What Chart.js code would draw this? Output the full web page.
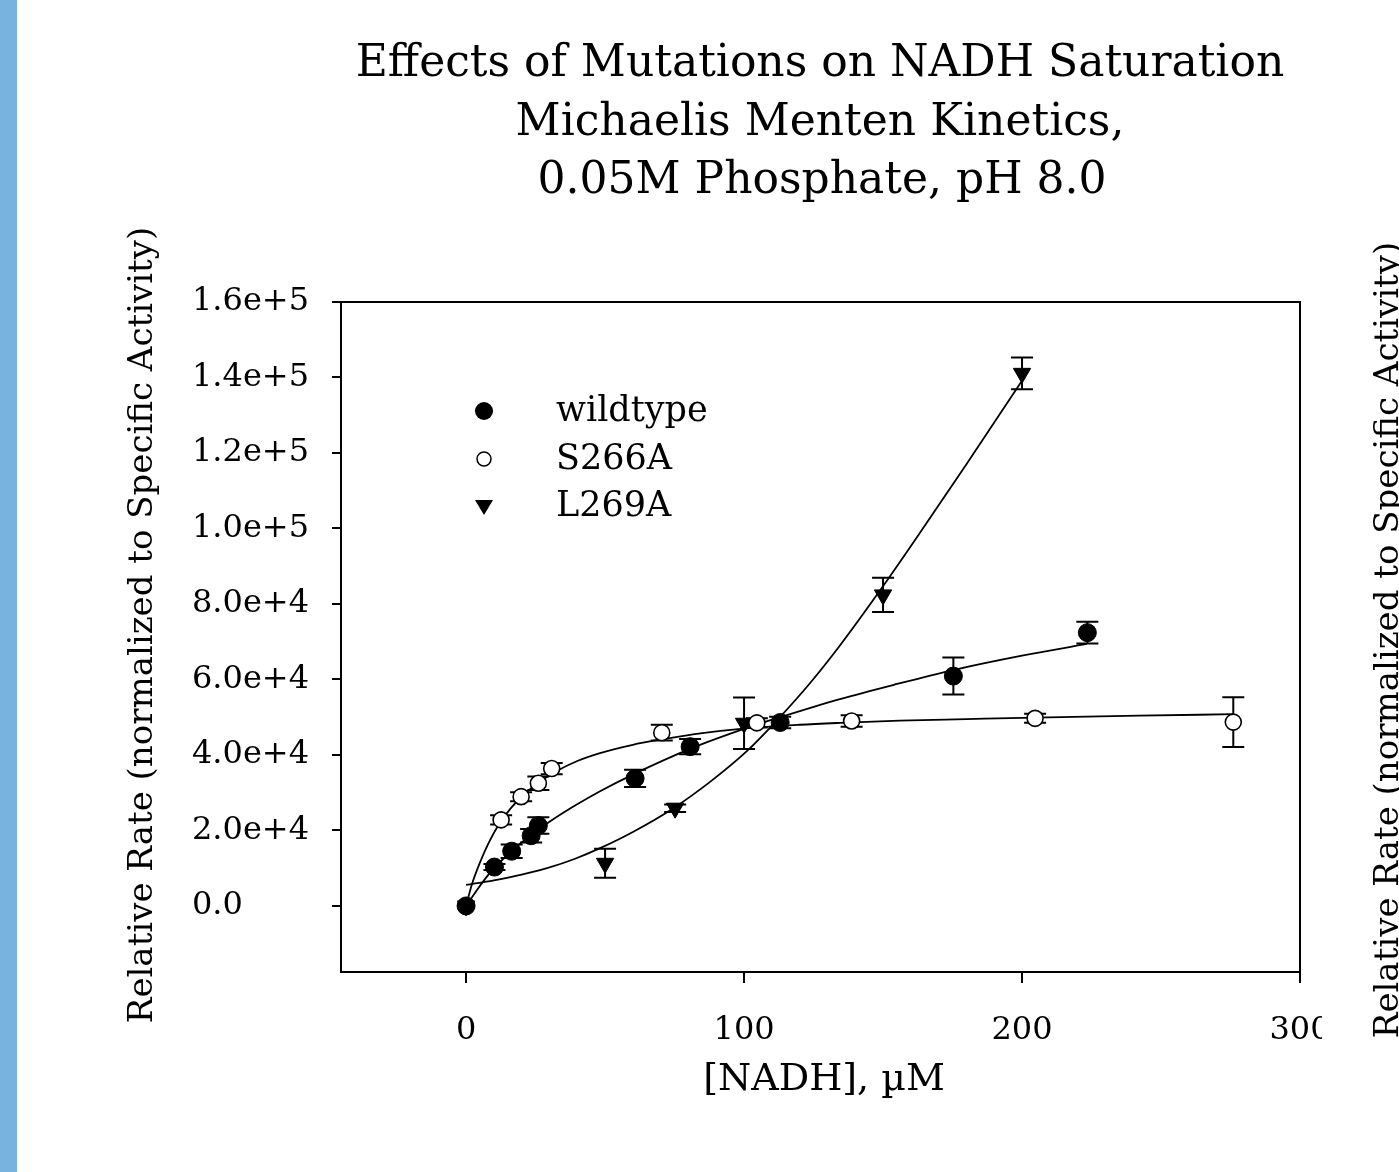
<!DOCTYPE html>
<html><head><meta charset="utf-8">
<script src="https://cdn.jsdelivr.net/npm/chart.js@4.4.0/dist/chart.umd.min.js"></script>
<style>
html,body{margin:0;padding:0;background:#fff;}
#wrap{position:relative;width:1399px;height:1172px;overflow:hidden;background:#fff;}
#strip{position:absolute;left:0;top:0;width:17px;height:1172px;background:#78b3e0;}
canvas{position:absolute;left:0;top:0;}
</style></head><body>
<div id="wrap"><canvas id="c" width="1399" height="1172"></canvas><div id="strip"></div></div>
<script>
// ---- data ----
const titleLines = ["Effects of Mutations on NADH Saturation", "Michaelis Menten Kinetics,", "0.05M Phosphate, pH 8.0"];
const xTitle = "[NADH], µM";
const yTitle = "Relative Rate (normalized to Specific Activity)";
const seriesNames = ["wildtype", "S266A", "L269A"];

const xTicks = [0, 100, 200, 300];
const xTickLabels = ["0", "100", "200", "300"];
const yTicks = [0, 20000, 40000, 60000, 80000, 100000, 120000, 140000, 160000];
const yTickLabels = ["0.0", "2.0e+4", "4.0e+4", "6.0e+4", "8.0e+4", "1.0e+5", "1.2e+5", "1.4e+5", "1.6e+5"];

const wildX   = [0, 10.2, 16.4, 23.4, 26, 60.8, 80.6, 113, 175.3, 223.5];
const wildY   = [0, 10300, 14500, 18600, 21300, 33800, 42200, 48600, 60900, 72400];
const wildErr = [0, 800, 1800, 1800, 2200, 2300, 2000, 1500, 4900, 2900];

const s266X   = [0, 12.6, 19.8, 26, 30.8, 70.4, 104.6, 138.7, 204.7, 276];
const s266Y   = [0, 22800, 28950, 32500, 36400, 45900, 48500, 49000, 49700, 48700];
const s266Err = [0, 1200, 1200, 1800, 1500, 2100, 1200, 1500, 1200, 6600];

const l269X   = [0, 50, 75.2, 100, 150, 200];
const l269Y   = [0, 11300, 25900, 48400, 82400, 141100];
const l269Err = [0, 3840, 1000, 6850, 4550, 4200];

// fitted curves, sampled along the drawn lines
const wildFitX = [0, 4, 7.4, 10.2, 16, 23, 30, 39.2, 48.2, 60, 81.2, 100, 113, 134.5, 155, 175.3, 200, 223.3];
const wildFitY = [0, 4300, 7700, 10100, 14300, 18600, 22300, 26600, 30400, 34800, 41800, 46900, 50000, 54800, 58800, 62500, 66300, 69400];

const s266FitX = [0, 2, 5, 8, 12.6, 19.8, 26, 32, 40, 48.2, 60, 70.4, 85, 99.8, 120, 134.5, 156, 180, 204.7, 242, 276];
const s266FitY = [0, 5500, 11500, 16500, 22500, 28900, 32600, 35500, 38400, 40500, 42700, 44100, 45800, 47000, 48000, 48500, 49100, 49500, 49900, 50400, 50800];

const l269FitX = [0, 10, 20, 30, 39.2, 48.2, 60, 74.6, 88, 101, 112, 123.7, 134.5, 150.1, 163.9, 180, 200.1];
const l269FitY = [5560, 6800, 8300, 10200, 12500, 15300, 19600, 25900, 33000, 41000, 49300, 59000, 69000, 84800, 99500, 117000, 139300];

// ---- helpers ----
const FONT = "DejaVu Serif";
const pts = (xs, ys) => xs.map((x, i) => ({x: x, y: ys[i]}));
const errSets = [
  {xs: wildX, ys: wildY, es: wildErr},
  {xs: s266X, ys: s266Y, es: s266Err},
  {xs: l269X, ys: l269Y, es: l269Err}
];

const errorBars = {
  id: 'errorBars',
  beforeDatasetsDraw(chart) {
    const {ctx, scales: {x, y}} = chart;
    ctx.save();
    ctx.strokeStyle = '#000';
    ctx.lineWidth = 2;
    errSets.forEach(s => {
      s.xs.forEach((xv, i) => {
        const e = s.es[i];
        if (!e) return;
        const px = x.getPixelForValue(xv);
        const top = y.getPixelForValue(s.ys[i] + e);
        const bot = y.getPixelForValue(s.ys[i] - e);
        ctx.beginPath();
        ctx.moveTo(px, top); ctx.lineTo(px, bot);
        ctx.moveTo(px - 11, top); ctx.lineTo(px + 11, top);
        ctx.moveTo(px - 11, bot); ctx.lineTo(px + 11, bot);
        ctx.stroke();
      });
    });
    ctx.restore();
  }
};

const decor = {
  id: 'decor',
  afterDraw(chart) {
    const {ctx, chartArea: a} = chart;
    ctx.save();
    // top and right frame lines
    ctx.strokeStyle = '#000';
    ctx.lineWidth = 2;
    ctx.beginPath();
    ctx.moveTo(a.left, a.top); ctx.lineTo(a.right, a.top); ctx.lineTo(a.right, a.bottom);
    ctx.stroke();
    // clipped tick-label regions as in the reference
    ctx.fillStyle = '#fff';
    ctx.fillRect(309, 280, 21, 680);
    ctx.fillRect(1322, 1000, 45, 60);
    // title
    ctx.fillStyle = '#000';
    ctx.textAlign = 'center';
    ctx.textBaseline = 'alphabetic';
    ctx.font = `44px "${FONT}"`;
    ctx.fillText(titleLines[0], 820, 76);
    ctx.fillText(titleLines[1], 820, 135);
    ctx.fillText(titleLines[2], 822, 193);
    // x title
    ctx.font = `38px "${FONT}"`;
    ctx.textBaseline = 'middle';
    ctx.fillText(xTitle, 824, 1080);
    // y title
    ctx.save();
    ctx.translate(143, 625);
    ctx.rotate(-Math.PI / 2);
    ctx.font = `34px "${FONT}"`;
    ctx.fillText(yTitle, 0, 0);
    ctx.restore();
    // neighbouring chart's y title (cut by the edge)
    ctx.save();
    ctx.translate(1398, 640);
    ctx.rotate(-Math.PI / 2);
    ctx.font = `34px "${FONT}"`;
    ctx.textBaseline = 'alphabetic';
    ctx.fillText(yTitle, 0, 0);
    ctx.restore();
    // legend
    const lx = 484, rows = [411, 459, 506];
    ctx.fillStyle = '#000'; ctx.strokeStyle = '#000'; ctx.lineWidth = 1.5;
    ctx.beginPath(); ctx.arc(lx, rows[0], 9, 0, Math.PI * 2); ctx.fill();
    ctx.beginPath(); ctx.arc(lx, rows[1], 7, 0, Math.PI * 2); ctx.fillStyle = '#fff'; ctx.fill(); ctx.stroke();
    ctx.fillStyle = '#000';
    ctx.beginPath(); ctx.moveTo(lx - 9, rows[2] - 6); ctx.lineTo(lx + 9, rows[2] - 6); ctx.lineTo(lx, rows[2] + 9); ctx.closePath(); ctx.fill();
    ctx.font = `35px "${FONT}"`;
    ctx.textAlign = 'left';
    ctx.textBaseline = 'middle';
    seriesNames.forEach((n, i) => ctx.fillText(n, 556, rows[i] + 1));
    ctx.restore();
  }
};

const curveStyle = {showLine: true, pointRadius: 0, borderColor: '#000', borderWidth: 1.8, cubicInterpolationMode: 'monotone', fill: false};

new Chart(document.getElementById('c'), {
  type: 'scatter',
  data: {
    datasets: [
      {label: seriesNames[0], data: pts(wildX, wildY), pointStyle: 'circle', pointRadius: 9, backgroundColor: '#000', borderColor: '#000', borderWidth: 1, showLine: false},
      {label: seriesNames[1], data: pts(s266X, s266Y), pointStyle: 'circle', pointRadius: 8, backgroundColor: '#fff', borderColor: '#000', borderWidth: 1.6, showLine: false},
      {label: seriesNames[2], data: pts(l269X, l269Y), pointStyle: 'triangle', rotation: 180, pointRadius: 10, backgroundColor: '#000', borderColor: '#000', borderWidth: 1, showLine: false},
      Object.assign({label: 'wildtype fit', data: pts(wildFitX, wildFitY)}, curveStyle),
      Object.assign({label: 'S266A fit', data: pts(s266FitX, s266FitY)}, curveStyle),
      Object.assign({label: 'L269A fit', data: pts(l269FitX, l269FitY)}, curveStyle)
    ]
  },
  options: {
    responsive: false, animation: false, devicePixelRatio: 1, events: [],
    layout: {padding: {left: 192, top: 302, right: 99, bottom: 0}},
    plugins: {legend: {display: false}, title: {display: false}, tooltip: {enabled: false}},
    scales: {
      x: {
        type: 'linear', min: -45, max: 300,
        afterBuildTicks: s => { s.ticks = xTicks.map(v => ({value: v})); },
        afterFit: s => { s.height = 200; },
        grid: {display: true, drawOnChartArea: false, drawTicks: true, tickLength: 11, color: '#000', lineWidth: 2},
        border: {display: true, color: '#000', width: 2},
        ticks: {color: '#000', font: {family: FONT, size: 32}, padding: 28, maxRotation: 0, autoSkip: false,
                callback: (v, i) => xTickLabels[i]}
      },
      y: {
        type: 'linear', min: -17500, max: 160000,
        afterBuildTicks: s => { s.ticks = yTicks.map(v => ({value: v})); },
        afterFit: s => { s.width = 149; },
        grid: {display: true, drawOnChartArea: false, drawTicks: true, tickLength: 9, color: '#000', lineWidth: 2},
        border: {display: true, color: '#000', width: 2},
        ticks: {color: '#000', font: {family: FONT, size: 32}, crossAlign: 'far', autoSkip: false,
                callback: (v, i) => yTickLabels[i]}
      }
    }
  },
  plugins: [errorBars, decor]
});
</script>
</body></html>
